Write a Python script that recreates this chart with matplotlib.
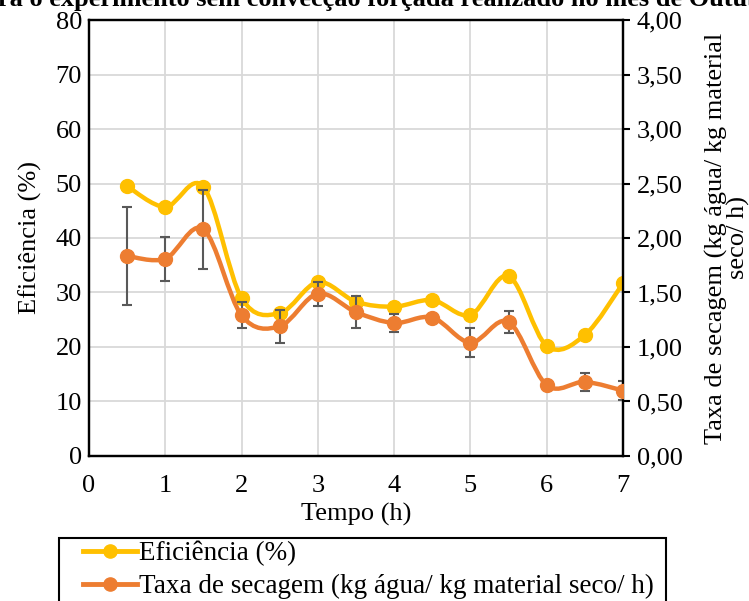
import matplotlib
matplotlib.use("Agg")
import matplotlib.pyplot as plt
from matplotlib.path import Path
from matplotlib.patches import PathPatch, Rectangle
from matplotlib.lines import Line2D
from matplotlib.ticker import FuncFormatter, MultipleLocator

plt.rcParams['font.family'] = ['Liberation Serif', 'DejaVu Serif']

# dados
tempo = [0.5, 1.0, 1.5, 2.0, 2.5, 3.0, 3.5, 4.0, 4.5, 5.0, 5.5, 6.0, 6.5, 7.0]
eficiencia = [49.5, 45.7, 49.4, 29.0, 26.2, 31.9, 28.3, 27.4, 28.6, 25.9, 33.0, 20.2, 22.2, 31.7]
taxa = [1.835, 1.81, 2.08, 1.29, 1.19, 1.49, 1.32, 1.22, 1.27, 1.04, 1.23, 0.65, 0.68, 0.60]
taxa_err = [0.45, 0.20, 0.36, 0.12, 0.15, 0.11, 0.15, 0.08, 0.0, 0.13, 0.10, 0.0, 0.08, 0.09]

amarelo = '#FFC000'
laranja = '#ED7D31'
fs = 19


def curva_suave(x, y):
    # bezier estilo excel (catmull-rom)
    verts = [(x[0], y[0])]
    codes = [Path.MOVETO]
    n = len(x)
    for i in range(n - 1):
        x0, y0 = (x[i - 1], y[i - 1]) if i > 0 else (x[i], y[i])
        x3, y3 = (x[i + 2], y[i + 2]) if i + 2 < n else (x[i + 1], y[i + 1])
        c1 = (x[i] + (x[i + 1] - x0) / 6, y[i] + (y[i + 1] - y0) / 6)
        c2 = (x[i + 1] - (x3 - x[i]) / 6, y[i + 1] - (y3 - y[i]) / 6)
        verts += [c1, c2, (x[i + 1], y[i + 1])]
        codes += [Path.CURVE4] * 3
    return Path(verts, codes)


fig = plt.figure(figsize=(7.49, 6.01), dpi=100)
ax = fig.add_axes([0.1188, 0.2413, 0.7130, 0.7254])
ax2 = ax.twinx()

# eficiencia (eixo esquerdo)
ax.add_patch(PathPatch(curva_suave(tempo, eficiencia), fill=False, ec=amarelo, lw=3.2, zorder=3))
ax.plot(tempo, eficiencia, 'o', color=amarelo, ms=10, zorder=4)

# taxa de secagem (eixo direito)
ax2.errorbar(tempo, taxa, yerr=taxa_err, fmt='none', ecolor='#595959', elinewidth=1.5,
             capsize=3.5, capthick=1.5, zorder=2)
ax2.add_patch(PathPatch(curva_suave(tempo, taxa), fill=False, ec=laranja, lw=3.2, zorder=3))
ax2.plot(tempo, taxa, 'o', color=laranja, ms=10, zorder=4)

ax.set_xlim(0, 7)
ax.set_ylim(0, 80)
ax2.set_ylim(0, 4)
ax.xaxis.set_major_locator(MultipleLocator(1))
ax.yaxis.set_major_locator(MultipleLocator(10))
ax2.yaxis.set_major_locator(MultipleLocator(0.5))
ax2.yaxis.set_major_formatter(FuncFormatter(lambda v, p: '{:.2f}'.format(v).replace('.', ',')))

ax.grid(True, color='#D9D9D9', lw=1.3)
ax.set_axisbelow(True)
for a in (ax, ax2):
    for s in a.spines.values():
        s.set_linewidth(1.6)
        s.set_color('black')

ax.tick_params(axis='both', length=0, labelsize=fs, pad=5)
ax.tick_params(axis='x', pad=14)
ax2.tick_params(axis='y', length=5, width=1.5, labelsize=fs, pad=5, direction='out')

ax.set_xlabel('Tempo (h)', fontsize=fs, labelpad=4)
ax.set_ylabel('Eficiência (%)', fontsize=fs, labelpad=10)
ax2.set_ylabel('Taxa de secagem (kg água/ kg material\nseco/ h)', fontsize=fs,
               labelpad=16, linespacing=0.95)

fig.text(0.505, 0.990, 'para o experimento sem convecção forçada realizado no mês de Outubro',
         ha='center', va='baseline', fontsize=fs, fontweight='bold')

# legenda com moldura propria
handles = [Line2D([], [], color=amarelo, lw=3.5, marker='o', ms=9.5),
           Line2D([], [], color=laranja, lw=3.5, marker='o', ms=9.5)]
leg = fig.legend(handles, ['Eficiência (%)', 'Taxa de secagem (kg água/ kg material seco/ h)'],
                 loc='upper left', bbox_to_anchor=(83 / 749, 1 - 541 / 601), fontsize=19.5,
                 frameon=False, handlelength=2.0, handletextpad=0.08,
                 borderpad=0, borderaxespad=0, labelspacing=0.28)
fig.add_artist(Rectangle((59 / 749, -0.05), (666 - 59) / 749, 0.05 + 1 - 538 / 601,
                         transform=fig.transFigure, fill=False, ec='black', lw=1.5))

fig.savefig('out.png', dpi=100)
